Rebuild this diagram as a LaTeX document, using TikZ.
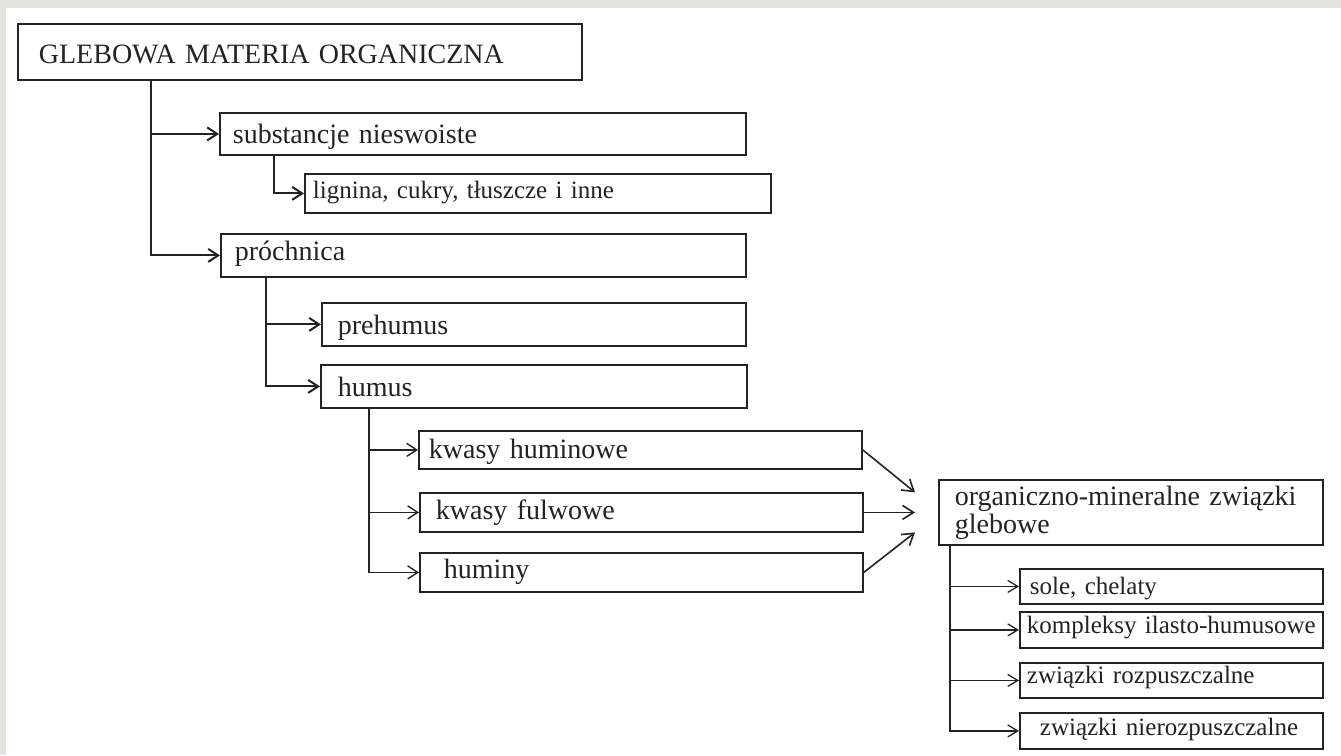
\documentclass[tikz,border=0pt]{standalone}
\usepackage{fontspec}
\setmainfont{Liberation Serif}
\usetikzlibrary{arrows.meta}
\definecolor{ink}{RGB}{35,35,35}
\definecolor{framegray}{RGB}{228,226,222}
\newcommand\BXind{\hspace*{\BXo pt}}
% #1 name, #2 style, #3 x1, #4 y1, #5 x2, #6 y2, #7 text x, #8 baseline y, #9 text
\newcommand\bxnode[9]{%
  \pgfmathsetmacro\BXw{#5-#3}\pgfmathsetmacro\BXh{#6-#4}%
  \pgfmathsetmacro\BXo{#7-#3}\pgfmathsetmacro\BXb{#8-#4}\pgfmathsetmacro\BXd{#6-#8}%
  \node[box,#2,anchor=north west,minimum width=\BXw pt,minimum height=\BXh pt,
        text width=\BXw pt,text height=\BXb pt,text depth=\BXd pt] (#1) at (#3,#4)
        {\BXind #9};}
\begin{document}
\begin{tikzpicture}[x=1pt,y=-1pt,
  box/.style={draw=ink,line width=1.8pt,text=ink,align=left,inner sep=0pt},
  big/.style={font=\fontsize{28}{28}\selectfont},
  small/.style={font=\fontsize{25}{25}\selectfont},
  conA/.style={draw=ink,line width=2pt,-{Straight Barb[length=10pt,width=13pt]}},
  conB/.style={draw=ink,line width=1.4pt,-{Straight Barb[length=10pt,width=13pt]}},
  conC/.style={draw=ink,line width=1.3pt,-{Straight Barb[length=10pt,width=12pt]}},
  conV/.style={draw=ink,line width=1.6pt,-{Straight Barb[length=11pt,width=14pt]}}]
\useasboundingbox (0,0) rectangle (1341,755);
\fill[white] (0,0) rectangle (1341,755);
\fill[framegray] (0,0) rectangle (1341,8);
\fill[framegray] (0,0) rectangle (6,755);

\bxnode{gleb}{big}{17}{23}{581}{79}{38}{63}{GLEBOWA MATERIA ORGANICZNA}
\bxnode{sub}{big}{219}{112}{745}{154}{232}{143}{substancje nieswoiste}
\bxnode{lig}{small}{304}{173}{770}{212}{312}{198}{lignina, cukry, tłuszcze i inne}
\bxnode{proch}{big}{220}{233}{745}{276}{234}{260}{próchnica}
\bxnode{preh}{big}{321}{302}{745}{345}{337}{334}{prehumus}
\bxnode{hum}{big}{320}{364}{746}{407}{337}{396}{humus}
\bxnode{kh}{big}{418}{430}{861}{468}{428}{458}{kwasy huminowe}
\bxnode{kf}{big}{419}{492}{862}{531}{435}{519}{kwasy fulwowe}
\bxnode{hn}{big}{419}{552}{862}{591}{443}{578}{huminy}
\bxnode{org}{big}{938}{479}{1322}{544}{954}{505}{organiczno-mineralne związki\\\BXind glebowe}
\bxnode{sole}{small}{1019}{568}{1322}{603}{1029}{594}{sole, chelaty}
\bxnode{kom}{small}{1019}{611}{1322}{647}{1026}{633}{kompleksy ilasto-humusowe}
\bxnode{roz}{small}{1019}{662}{1322}{697}{1026}{683}{związki rozpuszczalne}
\bxnode{nie}{small}{1019}{712}{1322}{748}{1039}{735}{związki nierozpuszczalne}

\draw[conA] ([xshift=134pt]gleb.south west) |- (sub.west);
\draw[conA] ([xshift=134pt]gleb.south west) |- (proch.west);
\draw[conA] ([xshift=55pt]sub.south west) |- (lig.west);
\draw[conA] ([xshift=46pt]proch.south west) |- (preh.west);
\draw[conA] ([xshift=46pt]proch.south west) |- (hum.west);
\draw[conB] ([xshift=49pt]hum.south west) |- (kh.west);
\draw[conB] ([xshift=49pt]hum.south west) |- (kf.west);
\draw[conB] ([xshift=49pt]hum.south west) |- (hn.west);
\draw[conC] ([xshift=12pt]org.south west) |- (sole.west);
\draw[conC] ([xshift=12pt]org.south west) |- (kom.west);
\draw[conC] ([xshift=12pt]org.south west) |- (roz.west);
\draw[conC] ([xshift=12pt]org.south west) |- (nie.west);

\coordinate (t1) at ([shift={(-23pt,20pt)}]org.west);
\coordinate (t2) at ([xshift=-23pt]org.west);
\coordinate (t3) at ([shift={(-23pt,-20pt)}]org.west);
\draw[conV] (kh.east) -- (t1);
\draw[conV] (kf.east) -- (t2);
\draw[conV] (hn.east) -- (t3);
\end{tikzpicture}
\end{document}
